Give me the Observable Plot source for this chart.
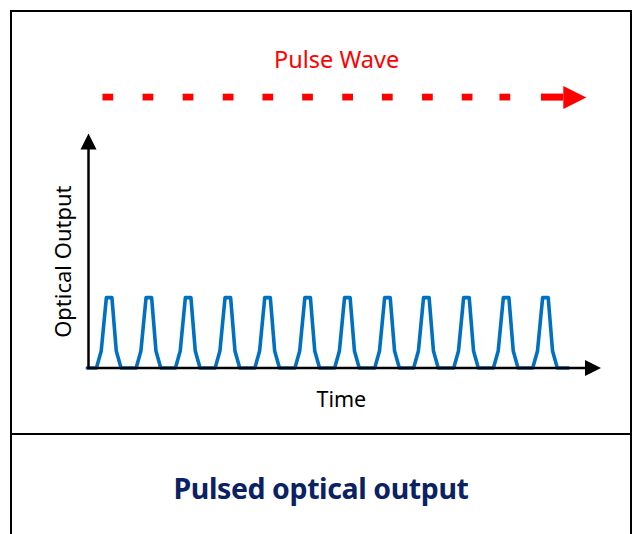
<!DOCTYPE html>
<html>
<head>
<meta charset="utf-8">
<script src="https://cdn.jsdelivr.net/npm/d3@7"></script>
<script src="https://cdn.jsdelivr.net/npm/@observablehq/plot@0.6"></script>
<style>
  html, body { margin: 0; padding: 0; background: #fff; }
  body { width: 635px; height: 534px; overflow: hidden; position: relative; }
  #box { position: absolute; left: 10px; top: 10px; width: 618px; height: 600px;
         border: 2px solid #000; }
  #chart svg { display: block; }
  #divider { border-top: 2px solid #000; }
  #title { text-align: center; font-family: "Noto Sans", sans-serif; font-weight: 700;
           font-size: 28.5px; color: #0a2263; padding-top: 37px; line-height: 32px; letter-spacing: -0.4px; }
</style>
</head>
<body>
<div id="box">
  <div id="chart"></div>
  <div id="divider"></div>
  <div id="title"></div>
</div>
<script>
// ---- data (time in pulse-period units, output normalised to pulse peak) ----
const pulseCenters = [0.52, 1.52, 2.51, 3.51, 4.51, 5.52, 6.52, 7.53, 8.51, 9.52, 10.52, 11.51];
const pulseProfileOffsets = [-0.32, -0.20, -0.07, 0.07, 0.18, 0.30];
const pulseProfileLevels  = [0, 0.24, 1, 1, 0.24, 0];
const traceStart = -0.03;
const traceEnd = 12.09;
const dashCenters = [0.50, 1.51, 2.52, 3.53, 4.53, 5.53, 6.54, 7.54, 8.55, 9.55, 10.50];
const waveArrowStart = 11.41;
const waveArrowTip = 12.54;
const waveLevel = 3.84;
const xLabel = "Time";
const yLabel = "Optical Output";
const waveLabel = "Pulse Wave";
const titleText = "Pulsed optical output";

// ---- build trace ----
const trace = [{t: traceStart, v: 0}];
for (const c of pulseCenters) {
  pulseProfileOffsets.forEach((o, i) => trace.push({t: c + o, v: pulseProfileLevels[i]}));
}
trace.push({t: traceEnd, v: 0});

// custom filled triangles anchored at their tip
function triangle(dir, len, half) {
  return {draw(ctx) {
    if (dir === "right") { ctx.moveTo(0, 0); ctx.lineTo(-len, -half); ctx.lineTo(-len, half); }
    else { ctx.moveTo(0, 0); ctx.lineTo(-half, len); ctx.lineTo(half, len); }
    ctx.closePath();
  }};
}

const xMax = 12.91, yMax = 3.33;
const font = '"Noto Sans", sans-serif';

const plot = Plot.plot({
  width: 618, height: 421,
  marginLeft: 76, marginRight: 29.5, marginTop: 121, marginBottom: 65.5,
  x: {domain: [0, xMax], axis: null},
  y: {domain: [0, yMax], axis: null},
  style: {fontFamily: font, background: "#fff"},
  marks: [
    // pulse-wave indicator
    Plot.rect(dashCenters, {x1: d => d - 0.135, x2: d => d + 0.135,
      y1: waveLevel - 0.048, y2: waveLevel + 0.048, fill: "#ff0000"}),
    Plot.rect([waveArrowStart], {x1: d => d, x2: waveArrowTip - 0.57,
      y1: waveLevel - 0.05, y2: waveLevel + 0.05, fill: "#ff0000"}),
    Plot.dot([waveArrowTip], {x: d => d, y: waveLevel, symbol: triangle("right", 23, 11.5),
      fill: "#ff0000", stroke: "none"}),
    Plot.text([waveLabel], {x: 6.25, y: 4.36, text: d => d, fill: "#ff0000",
      fontSize: 23.5, textAnchor: "middle", lineAnchor: "middle"}),
    // trace
    Plot.line(trace, {x: "t", y: "v", stroke: "#0070c0", strokeWidth: 3.6,
      strokeLinejoin: "round"}),
    // axes
    Plot.ruleY([0], {x1: traceStart, x2: xMax - 0.3, stroke: "#000", strokeWidth: 2.5}),
    Plot.dot([xMax], {x: d => d, y: 0, symbol: triangle("right", 16, 8), fill: "#000", stroke: "none"}),
    Plot.ruleX([0], {y1: -0.01, y2: yMax - 0.15, stroke: "#000", strokeWidth: 2.5}),
    Plot.dot([yMax], {x: 0, y: d => d, symbol: triangle("up", 16, 8), fill: "#000", stroke: "none"}),
    // axis labels
    Plot.text([xLabel], {x: 6.37, y: -0.45, text: d => d, fill: "#000", fontSize: 21.5,
      textAnchor: "middle", lineAnchor: "middle"}),
    Plot.text([yLabel], {x: -0.63, y: 1.51, text: d => d, fill: "#000", fontSize: 22,
      rotate: -90, textAnchor: "middle", lineAnchor: "middle"})
  ]
});
document.getElementById("chart").appendChild(plot);
document.getElementById("title").textContent = titleText;
</script>
</body>
</html>
